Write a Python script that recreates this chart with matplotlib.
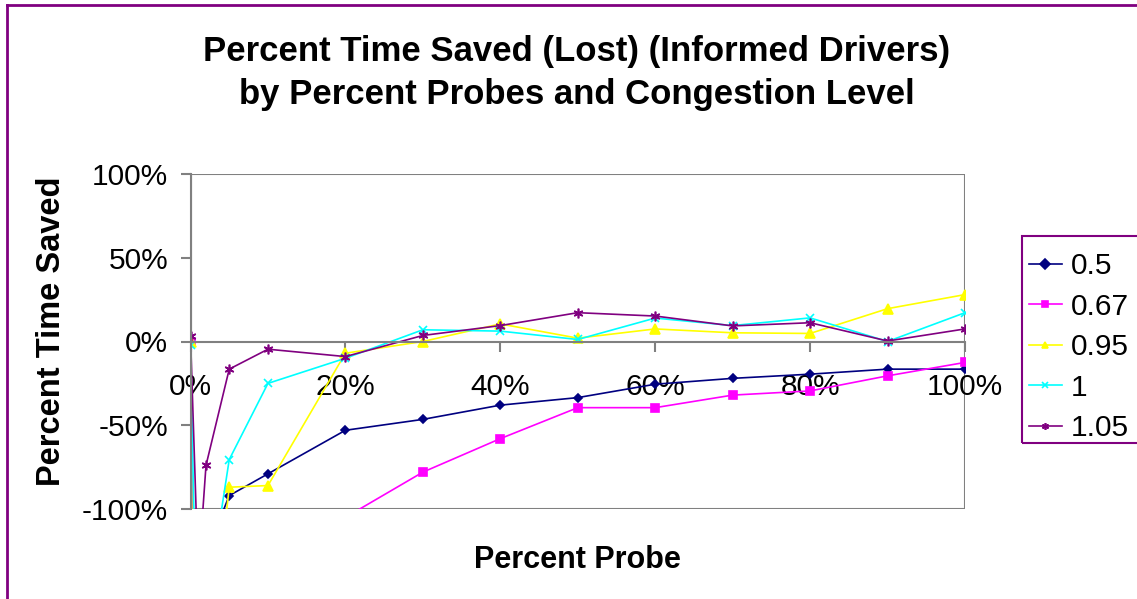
import matplotlib.pyplot as plt
from matplotlib.patches import Rectangle
from matplotlib.ticker import FuncFormatter

plt.rcParams['font.family'] = ['Liberation Sans', 'DejaVu Sans']

# percent probes (x) and percent time saved for each congestion level
probe_pct = [0, 1, 2, 5, 10, 20, 30, 40, 50, 60, 70, 80, 90, 100]
levels = ['0.5', '0.67', '0.95', '1', '1.05']
saved_050 = [0, -600, -127, -92, -79, -53, -46.5, -38, -33.5, -25.5, -22, -19.5, -16.5, -16.5]
saved_067 = [0, -600, -450, -300, -200, -105, -78, -58, -39.5, -39.5, -32, -29.5, -20.5, -12.5]
saved_095 = [0, -590, -211, -87, -86, -7, 0, 10.5, 2, 7.5, 5.2, 4.8, 19.6, 28]
saved_100 = [-2, -230, -161, -70.5, -25, -10, 7, 6.2, 1.2, 14, 9.5, 14.1, 0, 17.2]
saved_105 = [3.4, -140, -74, -16.5, -4.6, -9, 3.6, 9.5, 17.2, 15.2, 9.3, 11.2, 0.3, 7.5]

series = [saved_050, saved_067, saved_095, saved_100, saved_105]
colors = ['#000080', '#FF00FF', '#FFFF00', '#00FFFF', '#800080']
markers = ['D', 's', '^', 'x', (6, 2, 0)]
msizes = [4.5, 5.5, 6.5, 6, 7]

fig = plt.figure(figsize=(11.37, 5.99), dpi=100)
ax = fig.add_axes([190.5 / 1137, 90 / 599, (965 - 190.5) / 1137, (509 - 174) / 599])

for vals, lab, c, m, ms in zip(series, levels, colors, markers, msizes):
    ax.plot(probe_pct, vals, color=c, marker=m, markersize=ms, linewidth=1.2,
            markeredgewidth=1.2, label=lab)

ax.set_xlim(0, 100)
ax.set_ylim(-100, 100)
ax.set_xticks([0, 20, 40, 60, 80, 100])
ax.set_yticks([-100, -50, 0, 50, 100])
pct = FuncFormatter(lambda v, p: '%d%%' % v)
ax.xaxis.set_major_formatter(pct)
ax.yaxis.set_major_formatter(pct)

# x axis crosses at zero, plot area frame drawn separately
for s in ['top', 'right']:
    ax.spines[s].set_visible(False)
ax.spines['bottom'].set_position(('data', 0))
ax.spines['bottom'].set_color('#808080')
ax.spines['left'].set_color('#808080')
ax.spines['bottom'].set_linewidth(1.5)
ax.spines['left'].set_linewidth(1.5)
ax.add_patch(Rectangle((0, 0), 1, 1, transform=ax.transAxes, fill=False,
                       edgecolor='#808080', linewidth=1.5, zorder=0))
ax.tick_params(axis='x', direction='out', length=7, width=1.5, color='#808080',
               labelsize=21.5, pad=16)
ax.tick_params(axis='y', direction='out', length=7, width=1.5, color='#808080',
               labelsize=21.5, pad=9)

ax.set_ylabel('Percent Time Saved', fontsize=23.5, fontweight='bold')
ax.yaxis.set_label_coords(-0.16, 0.53)
fig.text(577 / 1137, 1 - 560 / 599, 'Percent Probe', fontsize=22, fontweight='bold',
         ha='center', va='center')

fig.text(577 / 1137, 1 - 73 / 599,
         'Percent Time Saved (Lost) (Informed Drivers)\nby Percent Probes and Congestion Level',
         fontsize=25, fontweight='bold', ha='center', va='center', linespacing=1.42)

# legend box (right side runs off the picture)
fig.add_artist(Rectangle((1022 / 1137, 1 - 443 / 599), 130 / 1137, 207 / 599,
                         transform=fig.transFigure, fill=False,
                         edgecolor='#800080', linewidth=1.5))
leg = fig.legend(loc='upper left', bbox_to_anchor=(1026 / 1137, 1 - 249 / 599),
                 borderaxespad=0, fontsize=21.5, numpoints=1, frameon=False,
                 handlelength=1.1, handletextpad=0.3, labelspacing=0.42,
                 borderpad=0.1)
for h in leg.legend_handles:
    h.set_markersize(5)

# outer chart border (top and left visible)
fig.add_artist(plt.Line2D([7 / 1137, 1], [1 - 5 / 599, 1 - 5 / 599], color='#800080',
                          linewidth=2, transform=fig.transFigure))
fig.add_artist(plt.Line2D([7 / 1137, 7 / 1137], [0, 1 - 5 / 599], color='#800080',
                          linewidth=2, transform=fig.transFigure))

fig.savefig('out.png', dpi=100)
